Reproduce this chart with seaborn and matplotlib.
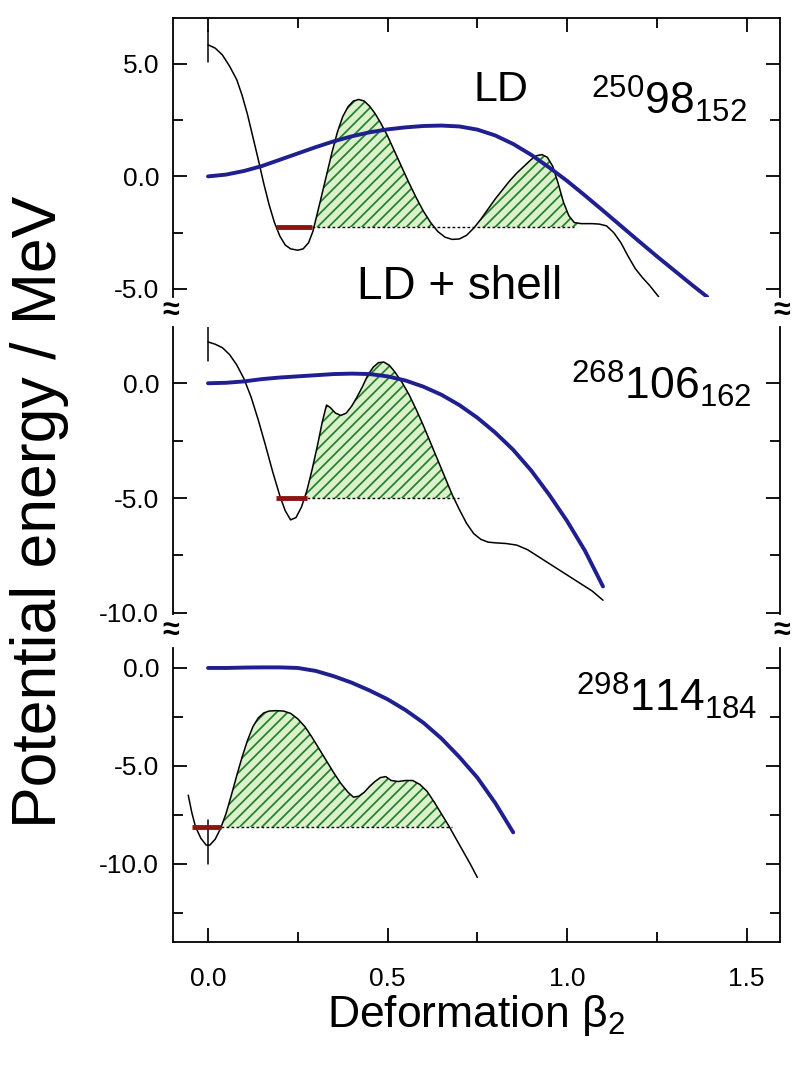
import numpy as np
import pandas as pd
import matplotlib
matplotlib.use("Agg")
import matplotlib.pyplot as plt
import seaborn as sns
from matplotlib.ticker import MultipleLocator, FixedLocator

sns.set_theme(style="ticks")
plt.rcParams['font.family'] = ['Liberation Sans', 'DejaVu Sans']
plt.rcParams['mathtext.fontset'] = 'custom'
plt.rcParams['mathtext.rm'] = 'Liberation Sans'
plt.rcParams['mathtext.it'] = 'Liberation Sans'
plt.rcParams['mathtext.bf'] = 'Liberation Sans:bold'
plt.rcParams['hatch.linewidth'] = 1.25

# ---------------- data ----------------
# Panel 1: 250Cf (98, 152)
cf_shell_x = [0.000, 0.020, 0.040, 0.060, 0.080, 0.095, 0.110, 0.125, 0.140, 0.155, 0.170, 0.185,
              0.200, 0.215, 0.230, 0.250, 0.265, 0.280, 0.292, 0.302, 0.315, 0.330, 0.345, 0.360,
              0.375, 0.390, 0.405, 0.420, 0.435, 0.450, 0.465, 0.480, 0.500, 0.520, 0.540, 0.560,
              0.580, 0.600, 0.620, 0.640, 0.660, 0.680, 0.700, 0.720, 0.740, 0.760, 0.780, 0.800,
              0.820, 0.840, 0.860, 0.880, 0.900, 0.915, 0.930, 0.945, 0.960, 0.975, 0.990, 1.005,
              1.020, 1.040, 1.070, 1.090, 1.110, 1.130, 1.150, 1.170, 1.190, 1.210, 1.230, 1.255]
cf_shell_e = [5.85, 5.70, 5.40, 4.90, 4.30, 3.60, 2.75, 1.75, 0.75, -0.30, -1.25, -2.05,
              -2.65, -3.05, -3.22, -3.28, -3.22, -2.95, -2.45, -1.80, -0.95, 0.05, 1.05, 1.95,
              2.65, 3.10, 3.35, 3.42, 3.35, 3.12, 2.80, 2.40, 1.80, 1.10, 0.40, -0.30,
              -0.95, -1.55, -2.05, -2.45, -2.70, -2.80, -2.78, -2.62, -2.30, -1.90, -1.45, -1.00,
              -0.60, -0.20, 0.15, 0.45, 0.75, 0.92, 0.97, 0.85, 0.45, -0.30, -1.15, -1.75,
              -2.05, -2.10, -2.10, -2.12, -2.20, -2.50, -2.95, -3.55, -4.10, -4.50, -4.85, -5.35]
cf_ld_x = [0.00, 0.05, 0.10, 0.15, 0.20, 0.25, 0.30, 0.35, 0.40, 0.45, 0.50, 0.55, 0.60, 0.65,
           0.70, 0.75, 0.80, 0.85, 0.90, 0.95, 1.00, 1.05, 1.10, 1.15, 1.20, 1.25, 1.30, 1.35, 1.39]
cf_ld_e = [0.00, 0.08, 0.24, 0.46, 0.74, 1.02, 1.30, 1.56, 1.78, 1.96, 2.09, 2.18, 2.24, 2.26,
           2.22, 2.08, 1.82, 1.44, 0.96, 0.40, -0.20, -0.85, -1.52, -2.20, -2.88, -3.55, -4.20, -4.85, -5.35]
cf_level = -2.25
cf_gs_range = [0.19, 0.29]
cf_barrier_range = [0.29, 1.02]
cf_sph_marker = [5.1, 6.5]

# Panel 2: 268Sg (106, 162)
sg_shell_x = [0.000, 0.020, 0.040, 0.060, 0.080, 0.100, 0.120, 0.140, 0.160, 0.180, 0.200, 0.215,
              0.230, 0.245, 0.260, 0.275, 0.290, 0.305, 0.318, 0.330, 0.340, 0.355, 0.370, 0.385,
              0.400, 0.415, 0.430, 0.445, 0.460, 0.475, 0.490, 0.505, 0.520, 0.540, 0.560, 0.580,
              0.600, 0.620, 0.640, 0.660, 0.680, 0.700, 0.720, 0.740, 0.760, 0.780, 0.800, 0.830,
              0.860, 0.890, 0.920, 0.950, 0.980, 1.010, 1.040, 1.070, 1.100]
sg_shell_e = [1.80, 1.70, 1.55, 1.25, 0.80, 0.20, -0.60, -1.60, -2.70, -3.85, -4.90, -5.55,
              -5.95, -5.85, -5.40, -4.70, -3.75, -2.70, -1.70, -0.95, -1.05, -1.30, -1.40, -1.30,
              -1.00, -0.60, -0.15, 0.35, 0.70, 0.90, 0.92, 0.78, 0.50, 0.05, -0.50, -1.15,
              -1.85, -2.60, -3.35, -4.10, -4.85, -5.50, -6.10, -6.55, -6.80, -6.92, -6.95, -6.98,
              -7.05, -7.25, -7.55, -7.85, -8.15, -8.45, -8.75, -9.05, -9.45]
sg_ld_x = [0.00, 0.05, 0.10, 0.15, 0.20, 0.25, 0.30, 0.35, 0.40, 0.45, 0.50, 0.55, 0.60, 0.65,
           0.70, 0.75, 0.80, 0.85, 0.90, 0.95, 1.00, 1.05, 1.10]
sg_ld_e = [0.00, 0.02, 0.08, 0.18, 0.25, 0.30, 0.35, 0.40, 0.42, 0.40, 0.30, 0.12, -0.15, -0.50,
           -0.95, -1.50, -2.15, -2.90, -3.80, -4.85, -6.00, -7.30, -8.85]
sg_level = -5.0
sg_gs_range = [0.19, 0.275]
sg_barrier_range = [0.275, 0.70]
sg_sph_marker = [0.96, 2.43]

# Panel 3: 298Fl (114, 184)
fl_shell_x = [-0.055, -0.045, -0.035, -0.020, -0.005, 0.005, 0.020, 0.035, 0.050, 0.065, 0.080,
              0.095, 0.110, 0.125, 0.140, 0.155, 0.170, 0.190, 0.210, 0.230, 0.250, 0.270, 0.290,
              0.310, 0.330, 0.350, 0.370, 0.390, 0.405, 0.420, 0.435, 0.450, 0.465, 0.480, 0.495,
              0.510, 0.530, 0.550, 0.570, 0.590, 0.610, 0.630, 0.650, 0.670, 0.690, 0.710, 0.730, 0.750]
fl_shell_e = [-6.50, -7.40, -8.10, -8.70, -9.05, -9.05, -8.75, -8.20, -7.45, -6.50, -5.50,
              -4.55, -3.70, -3.00, -2.55, -2.30, -2.20, -2.18, -2.20, -2.32, -2.60, -3.00, -3.55,
              -4.15, -4.75, -5.35, -5.90, -6.35, -6.60, -6.55, -6.35, -6.05, -5.80, -5.60, -5.55,
              -5.75, -5.80, -5.75, -5.75, -5.95, -6.30, -6.85, -7.45, -8.05, -8.70, -9.35, -10.00, -10.70]
fl_ld_x = [0.00, 0.05, 0.10, 0.15, 0.20, 0.25, 0.30, 0.35, 0.40, 0.45, 0.50, 0.55, 0.60, 0.65,
           0.70, 0.75, 0.80, 0.85]
fl_ld_e = [0.00, 0.00, 0.02, 0.03, 0.03, 0.00, -0.15, -0.42, -0.75, -1.15, -1.60, -2.15, -2.80,
           -3.60, -4.55, -5.60, -6.90, -8.40]
fl_level = -8.12
fl_gs_range = [-0.045, 0.035]
fl_barrier_range = [0.035, 0.68]
fl_sph_marker = [-10.0, -7.78]

nuclide_labels = [r"$^{250}$98$_{152}$", r"$^{268}$106$_{162}$", r"$^{298}$114$_{184}$"]
x_ticklabels = ["0.0", "0.5", "1.0", "1.5"]
x_ticks = [0.0, 0.5, 1.0, 1.5]

# ---------------- layout ----------------
W, H = 794, 1068
fig = plt.figure(figsize=(W / 100, H / 100), dpi=100)
LEFT, RIGHT = 173, 780

def make_axes(top_px, bot_px):
    return fig.add_axes([LEFT / W, 1 - bot_px / H, (RIGHT - LEFT) / W, (bot_px - top_px) / H])

panels = [
    dict(top=18, bot=297, ylim=(-5.36, 7.04), yticks=[-5, 0, 5],
         sx=cf_shell_x, se=cf_shell_e, lx=cf_ld_x, le=cf_ld_e, level=cf_level,
         gs=cf_gs_range, br=cf_barrier_range, sph=cf_sph_marker,
         label=nuclide_labels[0], lab_xy=(1.50, 2.75)),
    dict(top=327, bot=614, ylim=(-10.05, 2.45), yticks=[-10, -5, 0],
         sx=sg_shell_x, se=sg_shell_e, lx=sg_ld_x, le=sg_ld_e, level=sg_level,
         gs=sg_gs_range, br=sg_barrier_range, sph=sg_sph_marker,
         label=nuclide_labels[1], lab_xy=(1.515, -0.7)),
    dict(top=648, bot=942, ylim=(-14.0, 1.02), yticks=[-10, -5, 0],
         sx=fl_shell_x, se=fl_shell_e, lx=fl_ld_x, le=fl_ld_e, level=fl_level,
         gs=fl_gs_range, br=fl_barrier_range, sph=fl_sph_marker,
         label=nuclide_labels[2], lab_xy=(1.53, -2.2)),
]

BLUE = "#1f1f8f"
RED = "#8e1414"
HATCH_EDGE = "#23802a"
HATCH_FACE = "#dbf1cc"

axes = []
for i, p in enumerate(panels):
    ax = make_axes(p["top"], p["bot"])
    axes.append(ax)
    sx = np.array(p["sx"]); se = np.array(p["se"])
    lvl = p["level"]
    mask = (se > lvl) & (sx >= p["br"][0]) & (sx <= p["br"][1])
    ax.fill_between(sx, se, lvl, where=mask, interpolate=True,
                    facecolor=HATCH_FACE, edgecolor=HATCH_EDGE, hatch="///", linewidth=0, zorder=1)
    df_shell = pd.DataFrame({"beta": sx, "E": se})
    df_ld = pd.DataFrame({"beta": p["lx"], "E": p["le"]})
    sns.lineplot(data=df_shell, x="beta", y="E", ax=ax, color="black", linewidth=1.1,
                 sort=False, estimator=None, zorder=3)
    sns.lineplot(data=df_ld, x="beta", y="E", ax=ax, color=BLUE, linewidth=2.8,
                 sort=False, estimator=None, zorder=4)
    ax.plot(p["br"], [lvl, lvl], color="black", linewidth=1.0, linestyle=(0, (2, 1.6)), zorder=2)
    ax.plot(p["gs"], [lvl, lvl], color=RED, linewidth=3.5, solid_capstyle="butt", zorder=5)
    ax.plot([0, 0], p["sph"], color="black", linewidth=1.1, zorder=3)

    ax.set_xlim(-0.0975, 1.593)
    ax.set_ylim(*p["ylim"])
    ax.yaxis.set_major_locator(FixedLocator(p["yticks"]))
    ax.yaxis.set_minor_locator(MultipleLocator(2.5))
    ax.xaxis.set_major_locator(FixedLocator(x_ticks))
    ax.xaxis.set_minor_locator(MultipleLocator(0.25))
    ax.set_yticklabels([f"{v:.1f}" for v in p["yticks"]])
    ax.set_xlabel(""); ax.set_ylabel("")
    for s in ax.spines.values():
        s.set_linewidth(1.3)
        s.set_color("black")
    ax.tick_params(which="both", direction="in", left=True, right=True, width=1.3,
                   colors="black", labelsize=19, pad=10)
    ax.tick_params(which="major", length=10)
    ax.tick_params(which="minor", length=7)
    if i == 0:
        ax.spines["bottom"].set_visible(False)
        ax.tick_params(which="both", top=True, bottom=False, labelbottom=False)
    elif i == 1:
        ax.spines["bottom"].set_visible(False)
        ax.spines["top"].set_visible(False)
        ax.tick_params(which="both", top=False, bottom=False, labelbottom=False)
    else:
        ax.spines["top"].set_visible(False)
        ax.tick_params(which="both", top=False, bottom=True, labelbottom=True)
        ax.set_xticklabels(x_ticklabels)
        ax.tick_params(axis="x", pad=18)
    ax.set_facecolor("white")
    ax.text(p["lab_xy"][0], p["lab_xy"][1], p["label"], fontsize=32, ha="right", va="baseline",
            color="black", zorder=6)

axes[0].text(0.74, 3.35, "LD", fontsize=31, ha="left", va="baseline", color="black")
axes[0].text(0.415, -5.45, "LD + shell", fontsize=33, ha="left", va="baseline", color="black",
             clip_on=False, zorder=7)

# axis break marks
for ypx in (311, 631):
    for xpx in (LEFT - 2, RIGHT + 2):
        fig.text(xpx / W, 1 - ypx / H, "≈", fontsize=22, ha="center", va="center",
                 fontweight="bold", color="black")

fig.text(40 / W, 1 - 512 / H, "Potential energy / MeV", rotation=90, fontsize=45,
         ha="center", va="center", color="black")
fig.text(476 / W, 1 - 1016 / H, r"Deformation β$_2$", fontsize=32, ha="center", va="center",
         color="black")

fig.savefig("out.png", dpi=100, facecolor="white")
